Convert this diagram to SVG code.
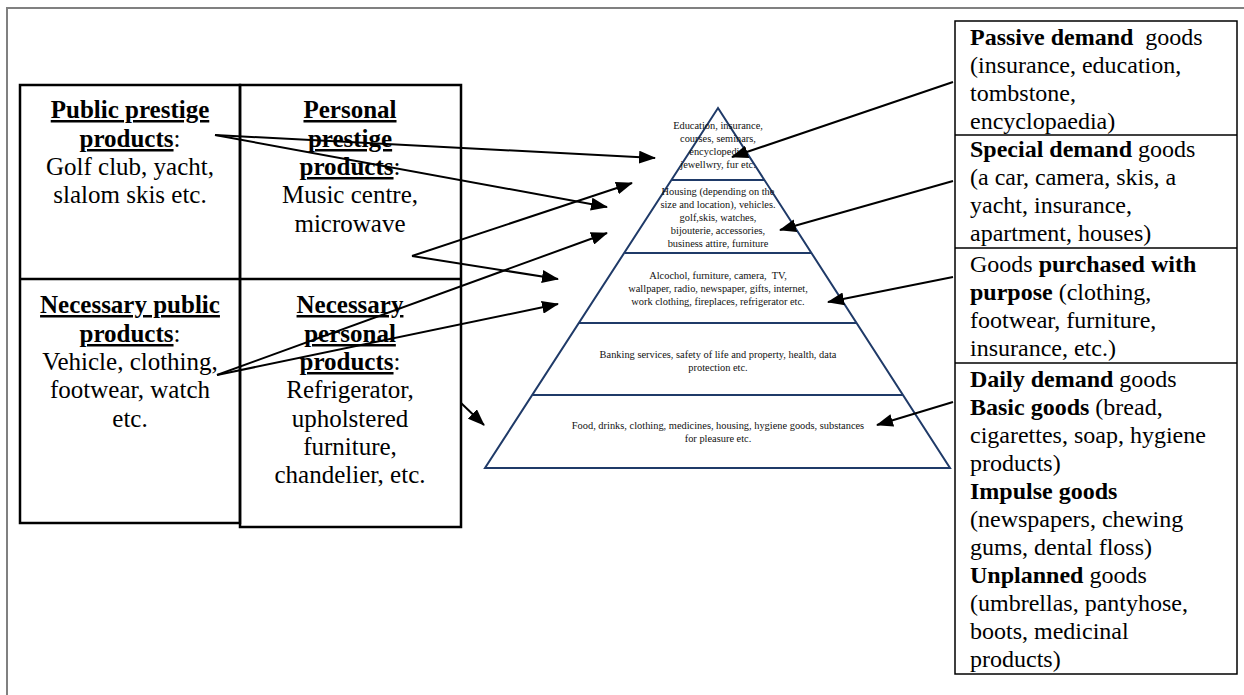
<svg xmlns="http://www.w3.org/2000/svg" width="1244" height="695" viewBox="0 0 1244 695">
<defs>
<marker id="ah" markerUnits="userSpaceOnUse" markerWidth="17" markerHeight="13" refX="16" refY="6.5" orient="auto">
<path d="M0,0 L17,6.5 L0,13 z" fill="#000"/>
</marker>
<style>
.t{font-family:'Liberation Serif','Times New Roman',Times,'DejaVu Serif',serif;font-size:24px;fill:#000}
.l{font-size:25px}
.c{text-anchor:middle}
.b{font-weight:bold}
.u{text-decoration:underline}
.p{font-family:'Liberation Serif','Times New Roman',Times,'DejaVu Serif',serif;font-size:10.4px;fill:#111;text-anchor:middle}
.box{fill:none;stroke:#000;stroke-width:2.5}
.rb{fill:none;stroke:#000;stroke-width:1.5}
.pyr{fill:none;stroke:#1f3a68;stroke-width:2}
.con{fill:none;stroke:#000;stroke-width:2;marker-end:url(#ah)}
</style>
</defs>
<rect width="1244" height="695" fill="#fff"/>
<g id="frame">
<path d="M7,695 L7,8 L1244,8" fill="none" stroke="#808080" stroke-width="2"/>
</g>
<g id="left-table">
<rect class="box" x="20" y="85" width="220" height="438"/>
<rect class="box" x="240" y="85" width="221" height="442"/>
<line class="box" x1="20" y1="279" x2="461" y2="279"/>
</g>
<g id="public-prestige">
<text class="t l c" x="130"><tspan x="130" y="118" class="b u">Public prestige</tspan><tspan x="130" y="147"><tspan class="b u">products</tspan>:</tspan><tspan x="130" y="175">Golf club, yacht,</tspan><tspan x="130" y="203">slalom skis etc.</tspan></text>
</g>
<g id="personal-prestige">
<text class="t l c" x="350"><tspan x="350" y="118" class="b u">Personal</tspan><tspan x="350" y="147" class="b u">prestige</tspan><tspan x="350" y="175"><tspan class="b u">products</tspan>:</tspan><tspan x="350" y="203">Music centre,</tspan><tspan x="350" y="232">microwave</tspan></text>
</g>
<g id="necessary-public">
<text class="t l c" x="130"><tspan x="130" y="313" class="b u">Necessary public</tspan><tspan x="130" y="342"><tspan class="b u">products</tspan>:</tspan><tspan x="130" y="370">Vehicle, clothing,</tspan><tspan x="130" y="398">footwear, watch</tspan><tspan x="130" y="427">etc.</tspan></text>
</g>
<g id="necessary-personal">
<text class="t l c" x="350"><tspan x="350" y="313" class="b u">Necessary</tspan><tspan x="350" y="342" class="b u">personal</tspan><tspan x="350" y="370"><tspan class="b u">products</tspan>:</tspan><tspan x="350" y="398">Refrigerator,</tspan><tspan x="350" y="427">upholstered</tspan><tspan x="350" y="455">furniture,</tspan><tspan x="350" y="483">chandelier, etc.</tspan></text>
</g>
<g id="pyramid">
<path class="pyr" d="M718,108 L950,468 L485,468 Z"/>
<line class="pyr" x1="672" y1="180" x2="764" y2="180"/>
<line class="pyr" x1="625" y1="253" x2="811" y2="253"/>
<line class="pyr" x1="579" y1="323" x2="857" y2="323"/>
<line class="pyr" x1="533" y1="395" x2="903" y2="395"/>
</g>
<g id="tier1">
<text class="p"><tspan x="718" y="129">Education, insurance,</tspan><tspan x="718" y="142">courses, seminars,</tspan><tspan x="718" y="155">encyclopedia,</tspan><tspan x="718" y="168">jewellwry, fur etc.</tspan></text>
</g>
<g id="tier2">
<text class="p"><tspan x="718" y="195">Housing (depending on the</tspan><tspan x="718" y="208">size and location), vehicles.</tspan><tspan x="718" y="221">golf,skis, watches,</tspan><tspan x="718" y="234">bijouterie, accessories,</tspan><tspan x="718" y="247">business attire, furniture</tspan></text>
</g>
<g id="tier3">
<text class="p"><tspan x="718" y="279">Alcochol, furniture, camera,&#160; TV,</tspan><tspan x="718" y="292">wallpaper, radio, newspaper, gifts, internet,</tspan><tspan x="718" y="305">work clothing, fireplaces, refrigerator etc.</tspan></text>
</g>
<g id="tier4">
<text class="p"><tspan x="718" y="358">Banking services, safety of life and property, health, data</tspan><tspan x="718" y="371">protection etc.</tspan></text>
</g>
<g id="tier5">
<text class="p"><tspan x="718" y="429">Food, drinks, clothing, medicines, housing, hygiene goods, substances</tspan><tspan x="718" y="442">for pleasure etc.</tspan></text>
</g>
<g id="right-boxes">
<rect class="rb" x="955" y="21" width="282" height="653"/>
<line class="rb" x1="955" y1="135" x2="1237" y2="135"/>
<line class="rb" x1="955" y1="248" x2="1237" y2="248"/>
<line class="rb" x1="955" y1="363" x2="1237" y2="363"/>
</g>
<g id="passive-demand">
<text class="t"><tspan x="970" y="45"><tspan class="b">Passive demand</tspan>&#160; goods</tspan><tspan x="970" y="73">(insurance, education,</tspan><tspan x="970" y="101">tombstone,</tspan><tspan x="970" y="129">encyclopaedia)</tspan></text>
</g>
<g id="special-demand">
<text class="t"><tspan x="970" y="157"><tspan class="b">Special demand</tspan> goods</tspan><tspan x="970" y="185">(a car, camera, skis, a</tspan><tspan x="970" y="213">yacht, insurance,</tspan><tspan x="970" y="241">apartment, houses)</tspan></text>
</g>
<g id="purposeful">
<text class="t"><tspan x="970" y="272">Goods <tspan class="b">purchased with</tspan></tspan><tspan x="970" y="300"><tspan class="b">purpose</tspan> (clothing,</tspan><tspan x="970" y="328">footwear, furniture,</tspan><tspan x="970" y="356">insurance, etc.)</tspan></text>
</g>
<g id="daily-demand">
<text class="t"><tspan x="970" y="387"><tspan class="b">Daily demand</tspan> goods</tspan><tspan x="970" y="415"><tspan class="b">Basic goods</tspan> (bread,</tspan><tspan x="970" y="443">cigarettes, soap, hygiene</tspan><tspan x="970" y="471">products)</tspan><tspan x="970" y="499" class="b">Impulse goods</tspan><tspan x="970" y="527">(newspapers, chewing</tspan><tspan x="970" y="555">gums, dental floss)</tspan><tspan x="970" y="583"><tspan class="b">Unplanned</tspan> goods</tspan><tspan x="970" y="611">(umbrellas, pantyhose,</tspan><tspan x="970" y="639">boots, medicinal</tspan><tspan x="970" y="667">products)</tspan></text>
</g>
<g id="connectors">
<line class="con" x1="215" y1="135" x2="655" y2="158"/>
<line class="con" x1="215" y1="135" x2="607" y2="207"/>
<line class="con" x1="412" y1="256" x2="632" y2="183"/>
<line class="con" x1="412" y1="256" x2="558" y2="279"/>
<line class="con" x1="217" y1="375" x2="607" y2="233"/>
<line class="con" x1="217" y1="375" x2="558" y2="304"/>
<line class="con" x1="461" y1="403" x2="484" y2="425"/>
<line class="con" x1="953" y1="82" x2="732" y2="157"/>
<line class="con" x1="953" y1="181" x2="780" y2="230"/>
<line class="con" x1="953" y1="277" x2="828" y2="302"/>
<line class="con" x1="953" y1="402" x2="877" y2="425"/>
</g>
</svg>
